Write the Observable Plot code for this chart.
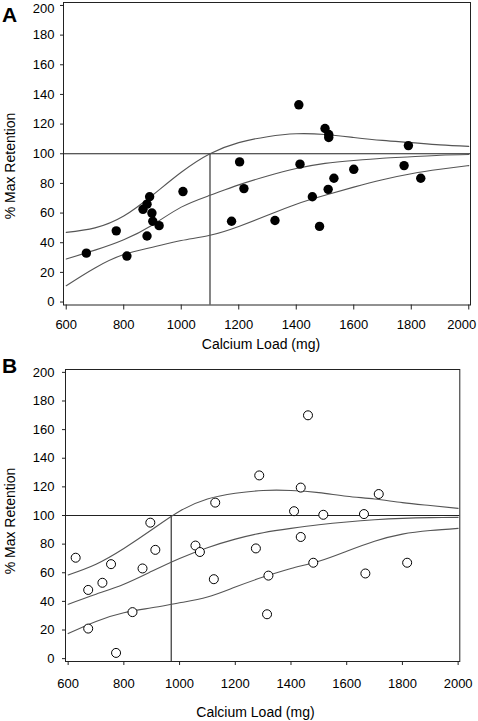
<!DOCTYPE html>
<html><head><meta charset="utf-8">
<script src="https://cdn.jsdelivr.net/npm/d3@7"></script>
<script src="https://cdn.jsdelivr.net/npm/@observablehq/plot@0.6"></script>
<style>
body{margin:0;background:#fff;}
#chart{position:relative;width:478px;height:721px;line-height:0;font-family:'Liberation Sans', Arial, Helvetica, sans-serif;color:#000;}
#chart svg{display:block;position:absolute;left:0;}
.lbl{position:absolute;white-space:nowrap;line-height:1;}
.letter{font-weight:bold;font-size:21px;}
.title{font-size:14px;transform:translate(-50%,-50%);}
.ytitle{font-size:14px;transform:translate(-50%,-50%) rotate(-90deg);}
</style>
</head><body><div id="chart"></div>
<script>
// ---------- data ----------
const xTicks = [600, 800, 1000, 1200, 1400, 1600, 1800, 2000];
const yTicks = [0, 20, 40, 60, 80, 100, 120, 140, 160, 180, 200];
const panelLabels = ["A", "B"];
const xTitle = "Calcium Load (mg)";
const yTitle = "% Max Retention";

// Panel A observations (filled dots)
const calciumA = [670, 774, 811, 867, 881, 890, 898, 901, 923, 881, 1006, 1175, 1203, 1218, 1326, 1409, 1413, 1456, 1481, 1500, 1513, 1513, 1511, 1531, 1600, 1775, 1790, 1833];
const retentionA = [33, 48, 31, 62.5, 66, 71, 60, 54.5, 51.5, 44.5, 74.5, 54.5, 94.5, 76.5, 55, 133, 93, 71, 51, 117, 113, 111, 76, 83.5, 89.5, 92, 105.5, 83.5];

// Panel B observations (open circles)
const calciumB = [627, 672, 672, 723, 754, 772, 831, 867, 895, 913, 1057, 1073, 1123, 1128, 1274, 1286, 1314, 1319, 1411, 1435, 1435, 1461, 1480, 1516, 1662, 1667, 1715, 1817];
const retentionB = [70.5, 48, 21, 53, 66, 4, 32.5, 63, 95, 76, 79, 74.5, 55.5, 109, 77, 128, 31, 58, 103, 119.5, 85, 170, 67, 100.5, 101, 59.5, 115, 67];

// Fitted curves, read at every 100 mg
const loadGrid = [600, 700, 800, 900, 1000, 1100, 1200, 1300, 1400, 1500, 1600, 1700, 1800, 1900, 2000];
const upperA = [47, 50, 58, 72, 87.5, 100, 107.5, 111.5, 113.5, 113, 111, 109, 107.5, 106, 105];
const midA   = [29, 35, 42, 52, 64, 72, 79, 85, 90, 93.5, 95.5, 97, 98, 99, 99.5];
const lowerA = [11, 23, 32, 37, 41.5, 45, 51, 58.5, 66, 72, 77.5, 82.5, 86.5, 89.5, 92];
const upperB = [58.5, 66, 77, 90, 103, 111.5, 115.5, 117.5, 117.5, 116, 113.5, 111.5, 109, 107, 105];
const midB   = [38, 45, 52, 61, 70, 77.5, 83.5, 88, 91, 93.5, 95.5, 97, 98, 98.5, 98.7];
const lowerB = [17.5, 26, 32, 35.5, 39, 43, 50, 57, 63, 68, 75, 82, 87, 89.5, 91];

const referenceLevel = 100;
const cutoffA = 1100;
const cutoffB = 970;

// ---------- drawing ----------
const FONT = "'Liberation Sans', Arial, Helvetica, sans-serif";
const lastX = xTicks[xTicks.length - 1];
const lastY = yTicks[yTicks.length - 1];

function panel(o) {
  const yMin = -2;
  return Plot.plot({
    width: 478,
    height: o.height,
    marginTop: o.mt, marginBottom: o.mb, marginLeft: o.ml, marginRight: o.mr,
    style: {fontFamily: FONT, fontSize: "13px", background: "white", color: "black", overflow: "visible"},
    x: {domain: [590.5, 2006]},
    y: {domain: [yMin, 202]},
    marks: [
      Plot.frame({stroke: "#222", strokeWidth: 1}),
      Plot.axisX(xTicks, {tickSize: o.xTickSize, tickPadding: o.xTickPad, fontSize: 13, label: null, stroke: "#222",
        tickFormat: d => (d === lastX && o.lastDx) ? "" : String(d)}),
      ...(o.lastDx ? [Plot.axisX([lastX], {tickSize: 0, tickPadding: o.xTickSize + o.xTickPad, fontSize: 13, label: null, dx: o.lastDx, tickFormat: d => String(d)})] : []),
      Plot.axisY(yTicks, {tickSize: 3, tickPadding: o.yTickPad, fontSize: 13, label: null, stroke: "#222",
        tickFormat: d => (d === lastY && o.topDy) ? "" : String(d)}),
      ...(o.topDy ? [Plot.axisY([lastY], {tickSize: 0, tickPadding: 3 + o.yTickPad, fontSize: 13, label: null, dy: o.topDy, tickFormat: d => String(d)})] : []),
      Plot.ruleY([referenceLevel], {stroke: "#222", strokeWidth: 1.1}),
      Plot.ruleX([o.cutoff], {y1: yMin, y2: referenceLevel, stroke: "#222", strokeWidth: 1.1}),
      Plot.line(loadGrid, {x: loadGrid, y: o.upper, curve: "natural", stroke: "#555", strokeWidth: 1.1}),
      Plot.line(loadGrid, {x: loadGrid, y: o.mid, curve: "natural", stroke: "#555", strokeWidth: 1.1}),
      Plot.line(loadGrid, {x: loadGrid, y: o.lower, curve: "natural", stroke: "#555", strokeWidth: 1.1}),
      o.filled
        ? Plot.dot(o.cx, {x: o.cx, y: o.cy, r: 4.7, fill: "black", stroke: "none"})
        : Plot.dot(o.cx, {x: o.cx, y: o.cy, r: 4.5, fill: "white", stroke: "black", strokeWidth: 1})
    ]
  });
}

const chart = document.getElementById("chart");
function label(text, cls, left, top) {
  const d = document.createElement("div");
  d.className = "lbl " + cls;
  d.textContent = text;
  d.style.left = left + "px";
  d.style.top = top + "px";
  chart.append(d);
}

const svgA = panel({
  cx: calciumA, cy: retentionA, upper: upperA, mid: midA, lower: lowerA,
  cutoff: cutoffA, filled: true, height: 355, mt: 2, mb: 50.5, ml: 63, mr: 8,
  xTickSize: 5, xTickPad: 10, yTickPad: 6, lastDx: -7, topDy: 3
});
svgA.style.top = "0px";
chart.append(svgA);

const svgB = panel({
  cx: calciumB, cy: retentionB, upper: upperB, mid: midB, lower: lowerB,
  cutoff: cutoffB, filled: false, height: 366, mt: 14, mb: 60, ml: 65, mr: 18.7,
  xTickSize: 4, xTickPad: 13, yTickPad: 8, lastDx: 0, topDy: 0
});
svgB.style.top = "355px";
chart.append(svgB);

// panel letters and axis titles (HTML text)
label(panelLabels[0], "letter", 2, 3.5);
label(panelLabels[1], "letter", 2, 354.5);
label(xTitle, "title", 261, 344);
label(xTitle, "title", 255.5, 712);
label(yTitle, "ytitle", 10, 166);
label(yTitle, "ytitle", 10, 521);
</script>
</body></html>
